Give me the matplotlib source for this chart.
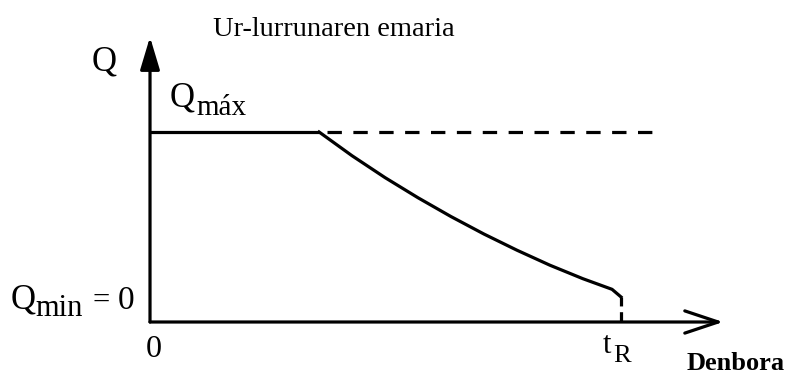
"""
Ur-lurrunaren emaria: flow Q against time, flat at Q max and then
falling to zero at t_R.
"""
import matplotlib
matplotlib.use("Agg")
import matplotlib.pyplot as plt

# === Data (t scaled so that t_R = 1, Q scaled so that Q max = 1) ===
flat_t = [0.0, 0.359]
flat_q = [1.0, 1.0]

decay_t = [0.359, 0.429, 0.499, 0.569, 0.639, 0.709, 0.779,
           0.849, 0.919, 0.981, 1.0]
decay_q = [1.0, 0.875, 0.760, 0.654, 0.555, 0.463, 0.378,
           0.299, 0.228, 0.172, 0.132]

ref_t = [0.375, 1.089]
ref_q = [1.0, 1.0]

tail_t = [1.0, 1.0]
tail_q = [0.132, 0.0]

t_axis_end = 1.217
q_axis_end = 1.50

title = "Ur-lurrunaren emaria"
x_label = "Denbora"

SERIF = "Liberation Serif"
LW = 2.3

fig = plt.figure(figsize=(7.96, 3.76), dpi=100)
ax = fig.add_axes([0, 0, 1, 1])
ax.set_xlim(-0.3185, 1.3716)
ax.set_ylim(-0.2842, 1.6947)
ax.axis("off")

# axes drawn as arrows
arrow = dict(arrowstyle="->,head_length=1.2,head_width=0.4", lw=LW,
             color="black", mutation_scale=20, shrinkA=0, shrinkB=0)
ax.annotate("", xy=(t_axis_end, 0), xytext=(0, 0), arrowprops=arrow)
arrow_y = dict(arrow, arrowstyle="-|>,head_length=1.0,head_width=0.3")
ax.annotate("", xy=(0, q_axis_end), xytext=(0, 0), arrowprops=arrow_y)

# flow curve
ax.plot(flat_t, flat_q, color="black", lw=LW, solid_capstyle="butt")
ax.plot(decay_t, decay_q, color="black", lw=LW, solid_joinstyle="round")
ax.plot(ref_t, ref_q, color="black", lw=LW, dashes=(4.5, 3.6))
ax.plot(tail_t, tail_q, color="black", lw=LW, dashes=(2.8, 1.8))

# labels
ax.text(0.391, 1.505, title, ha="center", va="baseline",
        fontsize=20.5, family=SERIF)
ax.text(-0.123, 1.326, "Q", ha="left", va="baseline", fontsize=25, family=SERIF)
ax.text(0.042, 1.132, "Q", ha="left", va="baseline", fontsize=25, family=SERIF)
ax.text(0.098, 1.089, "máx", ha="left", va="baseline", fontsize=21, family=SERIF)
ax.text(-0.297, 0.069, "Q", ha="left", va="baseline", fontsize=25, family=SERIF)
ax.text(-0.243, 0.030, "min", ha="left", va="baseline", fontsize=22, family=SERIF)
ax.text(-0.123, 0.069, "=", ha="left", va="baseline", fontsize=22, family=SERIF)
ax.text(-0.068, 0.069, "0", ha="left", va="baseline", fontsize=24, family=SERIF)
ax.text(0.008, -0.184, "0", ha="center", va="baseline", fontsize=23, family=SERIF)
ax.text(0.962, -0.163, "t", ha="left", va="baseline", fontsize=22, family=SERIF)
ax.text(0.984, -0.211, "R", ha="left", va="baseline", fontsize=19, family=SERIF)
ax.text(1.140, -0.255, x_label, ha="left", va="baseline",
        fontsize=19, fontweight="bold", family=SERIF)

fig.savefig("out.png", dpi=100)
